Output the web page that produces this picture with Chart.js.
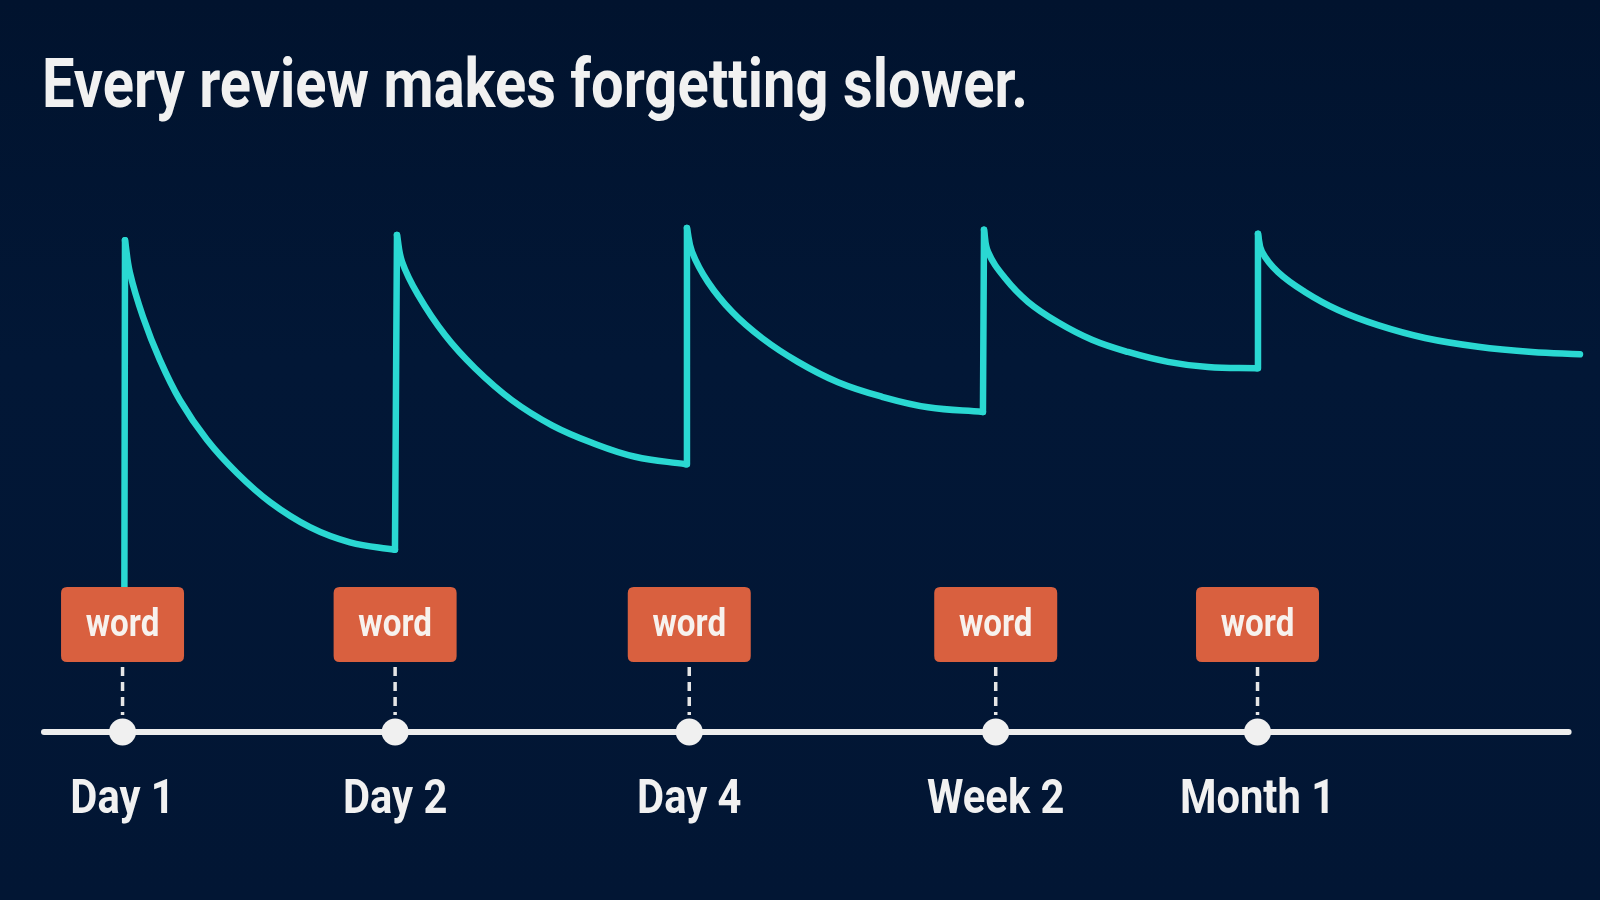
<!DOCTYPE html>
<html><head><meta charset="utf-8">
<script src="https://cdn.jsdelivr.net/npm/chart.js@4.4.1/dist/chart.umd.min.js"></script>
<style>
html,body{margin:0;padding:0;width:1600px;height:900px;overflow:hidden;background:#021634;}
#wrap{position:absolute;left:0;top:0;width:1600px;height:900px;background:linear-gradient(180deg,#01132e 0%,#021736 40%,#021634 100%);}
#title{position:absolute;left:42px;top:50px;margin:0;font-family:Roboto,'Noto Sans',sans-serif;font-weight:700;font-size:68px;line-height:68px;color:#F1F1F1;white-space:nowrap;transform-origin:0 0;letter-spacing:0;}
canvas{position:absolute;left:0;top:0;}
</style></head><body>
<div id="wrap"><canvas id="c" width="1600" height="900"></canvas></div>
<h1 id="title">Every review makes forgetting slower.</h1>
<script>
// ---- data ----
const titleText = 'Every review makes forgetting slower.';
const reviewLabels = ['Day 1', 'Day 2', 'Day 4', 'Week 2', 'Month 1'];
const reviewPos = [5.1, 22.8, 41.9, 61.8, 78.8];          // position on the timeline (0-100)
const cardLabels = ['word', 'word', 'word', 'word', 'word'];
const timelineX = [0, 99];
const timelineY = [0, 0];
// memory strength curve (position, strength 0-100); each review makes a jump at a peak
const curveX = [5.22, 5.26, 5.58, 6.43, 7.53, 8.83, 10.58, 12.53, 14.68, 17.27, 19.87, 22.79,
                22.92, 23.25, 24.29, 26.04, 27.99, 30.39, 32.99, 35.58, 38.38, 41.69,
                41.75, 42.08, 43.12, 44.68, 46.62, 48.96, 51.56, 54.42, 57.40, 60.97,
                61.04, 61.30, 62.40, 63.90, 65.84, 68.05, 70.39, 72.99, 75.58, 78.77,
                78.83, 79.09, 80.13, 81.88, 84.03, 86.62, 89.68, 93.12, 96.62, 99.74];
const curveY = [24.9, 84.5, 78.9, 71.3, 63.9, 57.0, 50.2, 44.5, 39.5, 35.2, 32.6, 31.3,
                85.4, 80.8, 75.1, 68.2, 62.5, 57.0, 52.7, 49.7, 47.3, 46.0,
                86.6, 82.5, 77.3, 72.2, 67.7, 63.6, 60.1, 57.6, 55.8, 55.0,
                86.3, 82.5, 78.0, 73.9, 70.4, 67.4, 65.3, 63.6, 62.7, 62.5,
                85.6, 82.5, 79.0, 75.6, 72.5, 69.9, 67.7, 66.2, 65.3, 64.9];
const peakIndex = [1, 12, 22, 32, 42];   // indices in curveX/curveY where a review jump ends

// ---- styling ----
const FONT = 'Roboto, "Noto Sans", sans-serif';
const CYAN = '#2AD8D2';
const measureCtx = document.createElement('canvas').getContext('2d');
measureCtx.font = '700 68px ' + FONT;
const condense = 986 / measureCtx.measureText(titleText).width;
document.getElementById('title').style.transform = 'scaleX(' + condense + ')';

const pt = i => ({x: curveX[i], y: curveY[i]});
// decay segments: from each peak to the point before the next jump
const decaySets = peakIndex.map((p, k) => {
  const end = k + 1 < peakIndex.length ? peakIndex[k + 1] - 1 : curveX.length - 1;
  const d = [];
  for (let i = p; i <= end; i++) d.push(pt(i));
  return d;
});
// jumps: from the point before each peak up to the peak
const riseData = [];
peakIndex.forEach((p, k) => {
  if (k > 0) riseData.push({x: (curveX[p - 1] + curveX[p]) / 2, y: null});
  riseData.push(pt(p - 1), pt(p));
});

const timelineData = timelineX.map((x, i) => ({x: x, y: timelineY[i]}));
const dotData = reviewPos.map(x => ({x: x, y: 0}));

function roundRect(ctx, x, y, w, h, r) {
  ctx.beginPath();
  ctx.moveTo(x + r, y);
  ctx.lineTo(x + w - r, y); ctx.quadraticCurveTo(x + w, y, x + w, y + r);
  ctx.lineTo(x + w, y + h - r); ctx.quadraticCurveTo(x + w, y + h, x + w - r, y + h);
  ctx.lineTo(x + r, y + h); ctx.quadraticCurveTo(x, y + h, x, y + h - r);
  ctx.lineTo(x, y + r); ctx.quadraticCurveTo(x, y, x + r, y);
  ctx.closePath();
}

const cardsPlugin = {
  id: 'cards',
  afterDatasetsDraw(chart) {
    const ctx = chart.ctx;
    const xs = chart.scales.x, ys = chart.scales.y;
    const y0 = ys.getPixelForValue(0);
    reviewPos.forEach((p, i) => {
      const xp = xs.getPixelForValue(p);
      const boxW = 123, boxH = 75;
      const boxTop = y0 - 70 - boxH;
      // dashed connector
      ctx.save();
      ctx.strokeStyle = '#E6E6E6';
      ctx.lineWidth = 3.5;
      ctx.setLineDash([9, 6]);
      ctx.beginPath();
      ctx.moveTo(xp, y0 - 65);
      ctx.lineTo(xp, y0 - 17);
      ctx.stroke();
      ctx.restore();
      // card
      ctx.save();
      ctx.fillStyle = '#D9603F';
      roundRect(ctx, xp - boxW / 2, boxTop, boxW, boxH, 6);
      ctx.fill();
      ctx.fillStyle = '#F7F2EE';
      ctx.font = '700 39px ' + FONT;
      ctx.textAlign = 'center';
      ctx.textBaseline = 'alphabetic';
      ctx.translate(xp, boxTop + 49);
      ctx.scale(condense, 1);
      ctx.fillText(cardLabels[i], 0, 0);
      ctx.restore();
      // timeline label
      ctx.save();
      ctx.fillStyle = '#F1F1F1';
      ctx.font = '700 49px ' + FONT;
      ctx.textAlign = 'center';
      ctx.textBaseline = 'alphabetic';
      ctx.translate(xp, y0 + 81);
      ctx.scale(condense, 1);
      ctx.fillText(reviewLabels[i], 0, 0);
      ctx.restore();
    });
  }
};

const lineStyle = {
  type: 'line',
  borderColor: CYAN,
  borderWidth: 6.5,
  pointRadius: 0,
  fill: false,
  borderJoinStyle: 'round',
  borderCapStyle: 'round',
  clip: false
};

new Chart(document.getElementById('c'), {
  type: 'scatter',
  data: {
    datasets: [
      ...decaySets.map((d, k) => Object.assign({}, lineStyle, {
        label: 'Memory after review ' + (k + 1),
        data: d,
        tension: 0.4
      })),
      Object.assign({}, lineStyle, { label: 'Review jumps', data: riseData, spanGaps: false, tension: 0 }),
      {
        label: 'Reviews',
        data: dotData,
        pointRadius: 13.5,
        pointBackgroundColor: '#F0F0F0',
        pointBorderWidth: 0,
        pointBorderColor: '#F0F0F0',
        clip: false
      },
      {
        label: 'Timeline',
        type: 'line',
        data: timelineData,
        borderColor: '#EDEDED',
        borderWidth: 6,
        pointRadius: 0,
        borderCapStyle: 'round',
        clip: false
      }
    ]
  },
  options: {
    responsive: false,
    animation: false,
    devicePixelRatio: 1,
    layout: { autoPadding: false, padding: { left: 44, right: 16, top: 150, bottom: 168 } },
    plugins: { legend: { display: false }, tooltip: { enabled: false }, title: { display: false } },
    scales: {
      x: { type: 'linear', display: false, min: 0, max: 100 },
      y: { type: 'linear', display: false, min: 0, max: 100 }
    }
  },
  plugins: [cardsPlugin]
});
</script>
</body></html>
